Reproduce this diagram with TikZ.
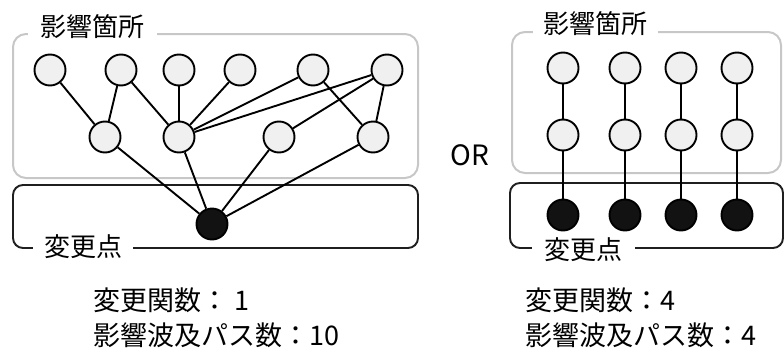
\documentclass[tikz,border=0pt]{standalone}
\usepackage{fontspec}
\setmainfont{Noto Sans CJK JP}

\begin{document}
\begin{tikzpicture}[x=1pt, y=-1pt]

  % Styles
  \tikzset{
    impact/.style={circle, draw=black, line width=1.9pt, fill=black!6, minimum size=31pt, inner sep=0pt},
    change/.style={circle, draw=black, line width=1.9pt, fill=black!93, minimum size=31pt, inner sep=0pt},
    edge/.style={line width=1.9pt},
    area box/.style={draw=black!22, line width=2pt, rounded corners=13pt},
    point box/.style={draw=black!88, line width=1.9pt, rounded corners=10pt},
    tag/.style={fill=white, font=\fontsize{26}{30}\selectfont, inner sep=0pt},
    count/.style={anchor=west, align=left, inner sep=0pt, font=\fontsize{27}{35}\selectfont}
  }

  \useasboundingbox (0,0) rectangle (784,351);

  % --- LEFT: one changed function, many paths ---
  % Areas
  \draw[area box] (13,34) rectangle (418,178);
  \draw[point box] (13,185) rectangle (418,248);
  \node[tag, minimum width=129pt, minimum height=43pt] (areaL) at (92,27) {影響箇所};
  \node[tag, minimum width=100pt, minimum height=39pt] (pointL) at (83,247) {変更点};
  % Impacted nodes
  \node[impact] (lt1) at (50,70) {};
  \node[impact] (lt2) at (121,70) {};
  \node[impact] (lt3) at (179,70) {};
  \node[impact] (lt4) at (240,70) {};
  \node[impact] (lt5) at (313,70) {};
  \node[impact] (lt6) at (387,70) {};
  \node[impact] (lm1) at (105,137) {};
  \node[impact] (lm2) at (179,137) {};
  \node[impact] (lm3) at (279,137) {};
  \node[impact] (lm4) at (373,137) {};
  % Changed point
  \node[change] (lc) at (212,224) {};
  % Paths
  \draw[edge] (lt1) -- (lm1);
  \draw[edge] (lt2) -- (lm1);
  \draw[edge] (lt2) -- (lm2);
  \draw[edge] (lt3) -- (lm2);
  \draw[edge] (lt4) -- (lm2);
  \draw[edge] (lt5) -- (lm2);
  \draw[edge] (lt6) -- (lm2);
  \draw[edge] (lt5) -- (lm4);
  \draw[edge] (lt6) -- (lm4);
  \draw[edge] (lt6) -- (lm3);
  \draw[edge] (lm1) -- (lc);
  \draw[edge] (lm2) -- (lc);
  \draw[edge] (lm3) -- (lc);
  \draw[edge] (lm4) -- (lc);
  % Counts
  \node[count] (countL) at (93,317.5) {変更関数： 1\\影響波及パス数：10};

  % --- OR ---
  \node[font=\fontsize{28}{30}\selectfont, inner sep=0pt] (or) at (470,155) {OR};

  % --- RIGHT: four changed functions, one path each ---
  % Areas
  \draw[area box] (512,32) rectangle (781,173);
  \draw[point box] (510,183) rectangle (783,248);
  \node[tag, minimum width=125pt, minimum height=42pt] (areaR) at (595.5,24) {影響箇所};
  \node[tag, minimum width=103pt, minimum height=38pt] (pointR) at (583.5,250) {変更点};
  % Impacted nodes
  \node[impact] (rt1) at (563,68) {};
  \node[impact] (rt2) at (625,68) {};
  \node[impact] (rt3) at (681,68) {};
  \node[impact] (rt4) at (737,68) {};
  \node[impact] (rm1) at (563,135) {};
  \node[impact] (rm2) at (625,135) {};
  \node[impact] (rm3) at (681,135) {};
  \node[impact] (rm4) at (737,135) {};
  % Changed points
  \node[change] (rc1) at (563,215) {};
  \node[change] (rc2) at (625,215) {};
  \node[change] (rc3) at (681,215) {};
  \node[change] (rc4) at (737,215) {};
  % Paths
  \draw[edge] (rt1) -- (rm1) -- (rc1);
  \draw[edge] (rt2) -- (rm2) -- (rc2);
  \draw[edge] (rt3) -- (rm3) -- (rc3);
  \draw[edge] (rt4) -- (rm4) -- (rc4);
  % Counts
  \node[count] (countR) at (525,317.5) {変更関数：4\\影響波及パス数：4};

\end{tikzpicture}
\end{document}
